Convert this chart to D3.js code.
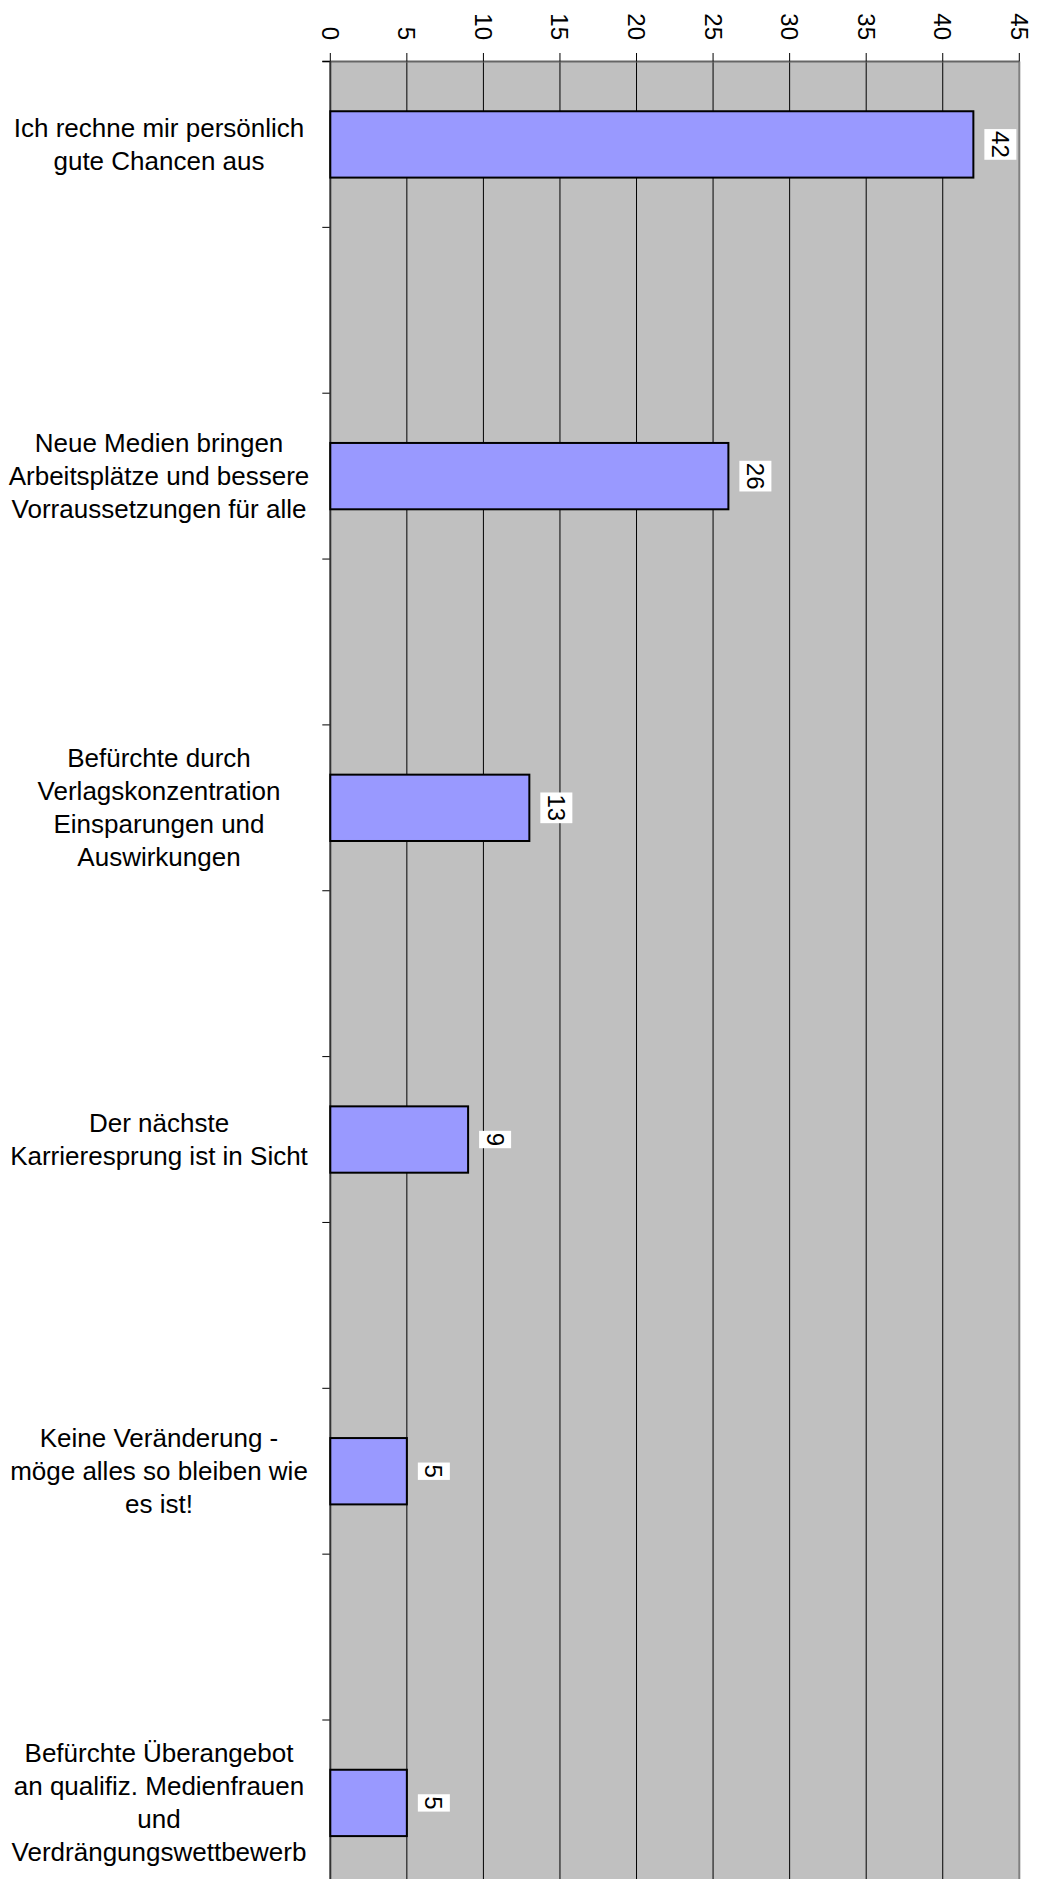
<!DOCTYPE html>
<html>
<head>
<meta charset="utf-8">
<script src="https://cdn.jsdelivr.net/npm/d3@7"></script>
<style>
  body { margin: 0; background: #fff; }
  svg { display: block; }
  text { font-family: "Liberation Sans", Arial, sans-serif; fill: #000; }
</style>
</head>
<body>
<script>
// categories, top to bottom (line breaks as in the original chart)
var categories = [
  'Ich rechne mir persönlich\ngute Chancen aus',
  'Neue Medien bringen\nArbeitsplätze und bessere\nVorraussetzungen für alle',
  'Befürchte durch\nVerlagskonzentration\nEinsparungen und\nAuswirkungen',
  'Der nächste\nKarrieresprung ist in Sicht',
  'Keine Veränderung -\nmöge alles so bleiben wie\nes ist!',
  'Befürchte Überangebot\nan qualifiz. Medienfrauen\nund\nVerdrängungswettbewerb'
];
var values = [42, 26, 13, 9, 5, 5];
var tickValues = [0, 5, 10, 15, 20, 25, 30, 35, 40, 45];

var W = 1039, H = 1879;
var plotLeft = 330.3, plotRight = 1019.3, plotTop = 61.5, step = 331.7;

var svg = d3.select('body').append('svg')
    .attr('width', W)
    .attr('height', H);

var x = d3.scaleLinear().domain([0, 45]).range([plotLeft, plotRight]);
var y = d3.scaleBand()
    .domain(categories)
    .range([plotTop - step / 4, plotTop - step / 4 + step * categories.length]);
var plotBottom = y.range()[1] - step / 4;

// plot area
svg.append('rect')
    .attr('x', plotLeft)
    .attr('y', plotTop)
    .attr('width', plotRight - plotLeft)
    .attr('height', plotBottom - plotTop)
    .attr('fill', '#C0C0C0');

// vertical gridlines
svg.selectAll('line.grid')
    .data(tickValues.filter(function(d) { return d > 0 && d < 45; }))
  .enter().append('line')
    .attr('class', 'grid')
    .attr('x1', function(d) { return x(d); })
    .attr('x2', function(d) { return x(d); })
    .attr('y1', plotTop)
    .attr('y2', plotBottom)
    .attr('stroke', '#000')
    .attr('stroke-width', 1);

// right border and top axis
svg.append('line')
    .attr('x1', x(45)).attr('x2', x(45))
    .attr('y1', plotTop).attr('y2', plotBottom)
    .attr('stroke', '#808080').attr('stroke-width', 2);
svg.append('line')
    .attr('x1', plotLeft - 8).attr('x2', x(45))
    .attr('y1', plotTop).attr('y2', plotTop)
    .attr('stroke', '#666').attr('stroke-width', 2);

// value axis ticks and labels
svg.selectAll('line.vtick')
    .data(tickValues)
  .enter().append('line')
    .attr('class', 'vtick')
    .attr('x1', function(d) { return x(d); })
    .attr('x2', function(d) { return x(d); })
    .attr('y1', plotTop - 8.5)
    .attr('y2', plotTop)
    .attr('stroke', '#000');

svg.selectAll('text.vlabel')
    .data(tickValues)
  .enter().append('text')
    .attr('class', 'vlabel')
    .attr('transform', function(d) { return 'translate(' + x(d) + ',40) rotate(90)'; })
    .attr('text-anchor', 'end')
    .attr('dominant-baseline', 'central')
    .attr('font-size', 24)
    .text(function(d) { return d; });

// category ticks (two per category, as in the original)
var catTicks = [];
categories.forEach(function(c) {
  catTicks.push(y(c) + step / 4);
  catTicks.push(y(c) + step * 3 / 4);
});
svg.selectAll('line.ctick')
    .data(catTicks)
  .enter().append('line')
    .attr('class', 'ctick')
    .attr('x1', plotLeft - 8)
    .attr('x2', plotLeft)
    .attr('y1', function(d) { return d; })
    .attr('y2', function(d) { return d; })
    .attr('stroke', '#000');

// left axis
svg.append('line')
    .attr('x1', plotLeft).attr('x2', plotLeft)
    .attr('y1', plotTop).attr('y2', plotBottom)
    .attr('stroke', '#333').attr('stroke-width', 2);

// bars
var rows = categories.map(function(c, i) { return { cat: c, value: values[i] }; });
var barH = step * 0.2;

svg.selectAll('rect.bar')
    .data(rows)
  .enter().append('rect')
    .attr('class', 'bar')
    .attr('x', x(0))
    .attr('y', function(d) { return y(d.cat) + step / 2 - barH / 2; })
    .attr('width', function(d) { return x(d.value) - x(0); })
    .attr('height', barH)
    .attr('fill', '#9999FF')
    .attr('stroke', '#000')
    .attr('stroke-width', 2);

// data labels, rotated, on white boxes
var lab = svg.selectAll('g.dlabel')
    .data(rows)
  .enter().append('g')
    .attr('class', 'dlabel')
    .attr('transform', function(d) {
      return 'translate(' + (x(d.value) + 27) + ',' + (y(d.cat) + step / 2) + ') rotate(90)';
    });
lab.append('rect').attr('fill', '#fff');
lab.append('text')
    .attr('text-anchor', 'middle')
    .attr('dominant-baseline', 'central')
    .attr('font-size', 24)
    .text(function(d) { return d.value; });
lab.each(function() {
  var g = d3.select(this);
  var len = g.select('text').node().getComputedTextLength();
  g.select('rect')
      .attr('x', -len / 2 - 2)
      .attr('y', -16)
      .attr('width', len + 4)
      .attr('height', 32);
});

// category labels
var lineH = 33;
svg.selectAll('text.clabel')
    .data(categories)
  .enter().append('text')
    .attr('class', 'clabel')
    .attr('text-anchor', 'middle')
    .attr('font-size', 26)
    .each(function(c) {
      var lines = c.split('\n');
      var cy = y(c) + step / 2 - (lines.length - 1) * lineH / 2;
      var t = d3.select(this);
      lines.forEach(function(l, i) {
        t.append('tspan')
            .attr('x', 159)
            .attr('y', cy + i * lineH)
            .attr('dominant-baseline', 'central')
            .text(l);
      });
    });
</script>
</body>
</html>
